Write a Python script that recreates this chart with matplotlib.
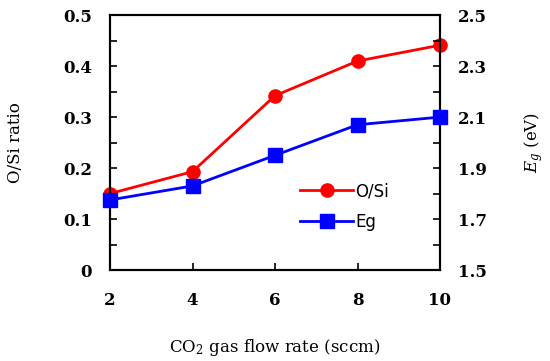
import matplotlib
matplotlib.use("Agg")
import matplotlib.pyplot as plt
from matplotlib.ticker import MultipleLocator

# donnees
flow = [2, 4, 6, 8, 10]
o_si = [0.150, 0.193, 0.342, 0.410, 0.441]
eg = [1.775, 1.83, 1.95, 2.07, 2.10]

plt.rcParams['mathtext.fontset'] = 'dejavuserif'

fig = plt.figure(figsize=(5.5, 3.61), dpi=100)
ax = fig.add_axes([0.2, 0.252, 0.6, 0.706])
ax2 = ax.twinx()

tick_font = {'family': 'DejaVu Serif', 'weight': 'bold', 'size': 12}

l1, = ax.plot(flow, o_si, color='red', marker='o', markersize=9.5, lw=2, label='O/Si', clip_on=False, zorder=5)
l2, = ax2.plot(flow, eg, color='blue', marker='s', markersize=9.5, lw=2, label='Eg', clip_on=False, zorder=5)

ax.set_xlim(2, 10)
ax.set_ylim(0, 0.5)
ax2.set_ylim(1.5, 2.5)
ax.set_xticks(flow)
ax.yaxis.set_minor_locator(MultipleLocator(0.05))
ax2.yaxis.set_minor_locator(MultipleLocator(0.1))

ax.set_xticklabels([str(v) for v in flow], fontdict=tick_font)
ax.set_yticks([0, 0.1, 0.2, 0.3, 0.4, 0.5])
ax.set_yticklabels(['0', '0.1', '0.2', '0.3', '0.4', '0.5'], fontdict=tick_font)
ax2.set_yticks([1.5, 1.7, 1.9, 2.1, 2.3, 2.5])
ax2.set_yticklabels(['1.5', '1.7', '1.9', '2.1', '2.3', '2.5'], fontdict=tick_font)

ax.tick_params(axis='y', which='both', direction='in', length=5, width=1.2, pad=13, right=False)
ax.tick_params(axis='x', which='both', direction='in', length=5, width=1.2, pad=16)
ax2.tick_params(axis='y', which='both', direction='in', length=5, width=1.2, pad=13)
for a in (ax, ax2):
    for s in a.spines.values():
        s.set_linewidth(1.5)

ax.set_xlabel('CO$_2$ gas flow rate (sccm)', family='DejaVu Serif', fontsize=12, labelpad=20)
ax.set_ylabel('O/Si ratio', family='DejaVu Serif', fontsize=12, labelpad=28)
ax2.set_ylabel('$E_g$ (eV)', family='DejaVu Serif', fontsize=12, labelpad=25)

leg = ax.legend(handles=[l1, l2], loc='center left', bbox_to_anchor=(0.53, 0.25),
                frameon=False, handlelength=3.2, handletextpad=0.1, labelspacing=0.75,
                prop={'family': 'DejaVu Sans', 'size': 12})

fig.savefig('out.png', dpi=100)
